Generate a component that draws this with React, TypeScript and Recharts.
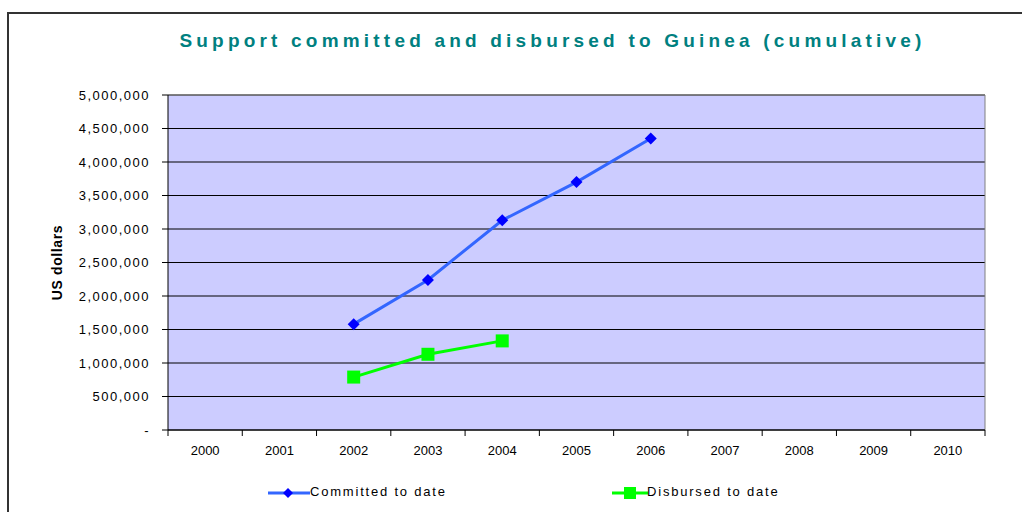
import React from 'react';
import {
  LineChart,
  Line,
  XAxis,
  YAxis,
  CartesianGrid,
  ReferenceLine,
} from 'recharts';

const YEARS = [2000, 2001, 2002, 2003, 2004, 2005, 2006, 2007, 2008, 2009, 2010];
const COMMITTED = [null, null, 1580000, 2240000, 3130000, 3700000, 4350000, null, null, null, null];
const DISBURSED = [null, null, 790000, 1130000, 1330000, null, null, null, null, null, null];
const Y_TICKS = [0, 500000, 1000000, 1500000, 2000000, 2500000, 3000000, 3500000, 4000000, 4500000, 5000000];

const data = YEARS.map((year, i) => ({
  year,
  committed: COMMITTED[i],
  disbursed: DISBURSED[i],
}));

// tick marks sit between the years, labels on the years
const X_TICKS = YEARS.flatMap((y) => [y - 0.5, y]).concat(YEARS[YEARS.length - 1] + 0.5);
const X_DOMAIN = [YEARS[0] - 0.5, YEARS[YEARS.length - 1] + 0.5];

const FONT = '"Liberation Sans", Arial, sans-serif';
const TICK_SIZE = 6;
const TICK_MARGIN = 10;

const COMMITTED_COLOR = '#3366FF';
const DIAMOND_COLOR = '#0000FF';
const DISBURSED_COLOR = '#00FF00';

const YearTick = (props: any) => {
  const { x, y, payload } = props;
  if (Number.isInteger(payload.value)) {
    return (
      <text x={x} y={y} dy="0.71em" textAnchor="middle" fill="#000" fontSize={13} fontFamily={FONT}>
        {payload.value}
      </text>
    );
  }
  return <line x1={x} x2={x} y1={y - TICK_MARGIN - TICK_SIZE} y2={y - TICK_MARGIN} stroke="#000" />;
};

const Diamond = (props: any) => {
  const { cx, cy } = props;
  if (cx == null || cy == null) return null;
  const r = 6;
  return (
    <polygon
      points={`${cx},${cy - r} ${cx + r},${cy} ${cx},${cy + r} ${cx - r},${cy}`}
      fill={DIAMOND_COLOR}
    />
  );
};

const Square = (props: any) => {
  const { cx, cy } = props;
  if (cx == null || cy == null) return null;
  const s = 6.5;
  return <rect x={cx - s} y={cy - s} width={s * 2} height={s * 2} fill={DISBURSED_COLOR} />;
};

const formatY = (v: number) => (v === 0 ? '-' : v.toLocaleString('en-US'));

const App: React.FC = () => {
  return (
    <div
      style={{
        position: 'absolute',
        left: 0,
        top: 0,
        width: 1022,
        height: 512,
        overflow: 'hidden',
        background: '#fff',
        fontFamily: FONT,
      }}
    >
      <div
        style={{
          position: 'absolute',
          left: 7,
          top: 12,
          width: 1100,
          height: 600,
          border: '2px solid #333',
        }}
      />
      <div
        style={{
          position: 'absolute',
          left: 0,
          width: 1105,
          top: 30,
          textAlign: 'center',
          color: '#008080',
          fontWeight: 'bold',
          fontSize: 19,
          letterSpacing: 4.2,
        }}
      >
        Support committed and disbursed to Guinea (cumulative)
      </div>
      <div style={{ position: 'absolute', left: 0, top: 0 }}>
        <LineChart
          width={1022}
          height={512}
          data={data}
          margin={{ top: 95, right: 37, bottom: 52, left: 0 }}
        >
          <CartesianGrid vertical={false} stroke="#000" fill="#CCCCFF" fillOpacity={1} />
          <XAxis
            type="number"
            dataKey="year"
            domain={X_DOMAIN}
            ticks={X_TICKS}
            interval={0}
            height={30}
            stroke="#000"
            tickLine={false}
            tickSize={TICK_SIZE}
            tickMargin={TICK_MARGIN}
            tick={<YearTick />}
          />
          <YAxis
            width={168}
            domain={[0, 5000000]}
            ticks={Y_TICKS}
            interval={0}
            stroke="#000"
            tickSize={TICK_SIZE}
            tickMargin={12}
            tickFormatter={formatY}
            tick={{ fill: '#000', fontSize: 13, fontFamily: FONT, letterSpacing: 1.5 }}
            label={{
              value: 'US dollars',
              angle: -90,
              position: 'insideLeft',
              offset: 57,
              style: {
                textAnchor: 'middle',
                fontWeight: 'bold',
                fontSize: 14,
                letterSpacing: 0.6,
                fill: '#000',
                fontFamily: FONT,
              },
            }}
          />
          <ReferenceLine y={5000000} stroke="#808080" />
          <ReferenceLine x={X_DOMAIN[1]} stroke="#808080" />
          <Line
            type="linear"
            dataKey="committed"
            stroke={COMMITTED_COLOR}
            strokeWidth={3}
            dot={<Diamond />}
            activeDot={false}
            isAnimationActive={false}
          />
          <Line
            type="linear"
            dataKey="disbursed"
            stroke={DISBURSED_COLOR}
            strokeWidth={3}
            dot={<Square />}
            activeDot={false}
            isAnimationActive={false}
          />
        </LineChart>
      </div>
      <div
        style={{
          position: 'absolute',
          top: 484,
          left: 0,
          width: 1022,
          height: 18,
          fontSize: 13,
          letterSpacing: 1.8,
          color: '#000',
        }}
      >
        <svg style={{ position: 'absolute', left: 268, top: 2 }} width={42} height={14}>
          <line x1={0} x2={42} y1={7} y2={7} stroke={COMMITTED_COLOR} strokeWidth={3} />
          <polygon points="20,2 25,7 20,12 15,7" fill={DIAMOND_COLOR} />
        </svg>
        <span style={{ position: 'absolute', left: 310, top: 0 }}>Committed to date</span>
        <svg style={{ position: 'absolute', left: 612, top: 2 }} width={36} height={14}>
          <line x1={0} x2={36} y1={7} y2={7} stroke={DISBURSED_COLOR} strokeWidth={3} />
          <rect x={12} y={1} width={12} height={12} fill={DISBURSED_COLOR} />
        </svg>
        <span style={{ position: 'absolute', left: 647, top: 0 }}>Disbursed to date</span>
      </div>
    </div>
  );
};

export default App;
